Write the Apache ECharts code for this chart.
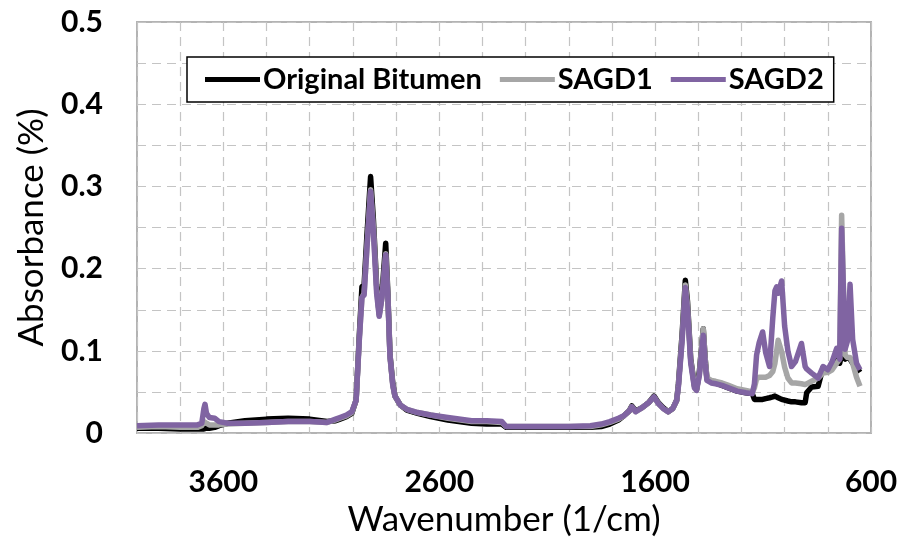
<!DOCTYPE html>
<html>
<head>
<meta charset="utf-8">
<script src="https://cdn.jsdelivr.net/npm/echarts@6/dist/echarts.min.js"></script>
<style>
  html, body { margin: 0; padding: 0; background: #fff; }
  #chart { width: 904px; height: 542px; }
</style>
</head>
<body>
<div id="chart"></div>
<script>
// wavenumbers (1/cm)
const wavenumber = [
  4000, 3900, 3800, 3720, 3700, 3690, 3685, 3678, 3665, 3640, 3620, 3580, 3500, 3400, 3300, 3200,
  3120, 3080, 3060, 3030, 3005, 2985, 2970, 2958, 2948, 2935, 2918, 2905, 2890, 2878, 2865, 2848,
  2838, 2828, 2815, 2805, 2780, 2750, 2700, 2640, 2560, 2450, 2380, 2310, 2290, 2200, 2000, 1900,
  1850, 1810, 1770, 1745, 1720, 1708, 1690, 1660, 1630, 1605, 1585, 1563, 1540, 1518, 1500, 1492,
  1475, 1460, 1450, 1435, 1418, 1408, 1395, 1377, 1368, 1360, 1340, 1320, 1290, 1260, 1220, 1180,
  1150, 1140, 1130, 1118, 1102, 1088, 1070, 1055, 1045, 1037, 1030, 1014, 1000, 985, 968, 950,
  922, 905, 898, 875, 845, 822, 800, 780, 759, 745, 736, 720, 710, 697, 685, 667, 651
];

const originalBitumen = [
  0.006, 0.006, 0.005, 0.005, 0.005, 0.005, 0.006, 0.006, 0.006, 0.007, 0.009, 0.012, 0.015, 0.017, 0.018, 0.017,
  0.014, 0.015, 0.017, 0.020, 0.024, 0.040, 0.120, 0.178, 0.180, 0.240, 0.312, 0.260, 0.180, 0.145, 0.170, 0.231,
  0.170, 0.095, 0.060, 0.045, 0.034, 0.028, 0.024, 0.020, 0.016, 0.012, 0.011, 0.011, 0.007, 0.007, 0.007, 0.007,
  0.008, 0.011, 0.016, 0.021, 0.027, 0.033, 0.027, 0.031, 0.037, 0.045, 0.037, 0.031, 0.026, 0.030, 0.040, 0.060,
  0.120, 0.186, 0.160, 0.090, 0.058, 0.053, 0.075, 0.127, 0.090, 0.066, 0.063, 0.061, 0.058, 0.055, 0.051, 0.049,
  0.048, 0.041, 0.041, 0.041, 0.041, 0.042, 0.043, 0.044, 0.045, 0.045, 0.043, 0.041, 0.040, 0.039, 0.038, 0.038,
  0.037, 0.037, 0.049, 0.056, 0.057, 0.080, 0.075, 0.082, 0.090, 0.085, 0.095, 0.090, 0.092, 0.090, 0.085, 0.080, 0.074
];

const sagd1 = [
  0.007, 0.008, 0.007, 0.007, 0.009, 0.014, 0.016, 0.012, 0.010, 0.010, 0.010, 0.011, 0.012, 0.013, 0.014, 0.014,
  0.013, 0.016, 0.018, 0.021, 0.025, 0.040, 0.115, 0.165, 0.170, 0.225, 0.296, 0.250, 0.175, 0.143, 0.165, 0.218,
  0.165, 0.093, 0.058, 0.045, 0.034, 0.029, 0.025, 0.022, 0.018, 0.014, 0.014, 0.013, 0.008, 0.008, 0.008, 0.008,
  0.010, 0.013, 0.017, 0.021, 0.027, 0.032, 0.026, 0.031, 0.037, 0.044, 0.036, 0.030, 0.026, 0.030, 0.040, 0.058,
  0.115, 0.180, 0.155, 0.088, 0.057, 0.053, 0.072, 0.127, 0.090, 0.067, 0.064, 0.063, 0.061, 0.058, 0.054, 0.052,
  0.050, 0.055, 0.066, 0.068, 0.068, 0.068, 0.070, 0.075, 0.085, 0.100, 0.113, 0.099, 0.080, 0.067, 0.061, 0.061,
  0.060, 0.059, 0.060, 0.063, 0.067, 0.073, 0.074, 0.077, 0.085, 0.090, 0.265, 0.095, 0.092, 0.092, 0.085, 0.068, 0.057
];

const sagd2 = [
  0.009, 0.010, 0.010, 0.010, 0.012, 0.030, 0.035, 0.024, 0.019, 0.018, 0.014, 0.012, 0.012, 0.013, 0.014, 0.014,
  0.013, 0.017, 0.019, 0.022, 0.026, 0.040, 0.115, 0.165, 0.168, 0.225, 0.294, 0.245, 0.170, 0.142, 0.165, 0.217,
  0.165, 0.093, 0.058, 0.045, 0.034, 0.029, 0.025, 0.022, 0.019, 0.015, 0.015, 0.014, 0.008, 0.008, 0.008, 0.009,
  0.011, 0.014, 0.018, 0.021, 0.027, 0.032, 0.026, 0.031, 0.037, 0.044, 0.036, 0.030, 0.026, 0.030, 0.040, 0.057,
  0.112, 0.177, 0.150, 0.085, 0.055, 0.052, 0.070, 0.119, 0.085, 0.064, 0.061, 0.060, 0.058, 0.055, 0.051, 0.049,
  0.048, 0.060, 0.095, 0.110, 0.123, 0.098, 0.081, 0.140, 0.173, 0.178, 0.170, 0.185, 0.130, 0.100, 0.081, 0.087,
  0.109, 0.081, 0.078, 0.073, 0.067, 0.081, 0.077, 0.087, 0.103, 0.090, 0.249, 0.102, 0.111, 0.181, 0.114, 0.085, 0.077
];

const seriesNames = ['Original Bitumen', 'SAGD1', 'SAGD2'];
const seriesColors = ['#000000', '#a6a6a6', '#8064a2'];
const seriesValues = [originalBitumen, sagd1, sagd2];

const chart = echarts.init(document.getElementById('chart'), null, { renderer: 'canvas' });

const font = 'Lato, "Open Sans", sans-serif';

chart.setOption({
  animation: false,
  backgroundColor: '#fff',
  grid: {
    left: 137,
    right: 33,
    top: 22,
    bottom: 105,
    show: true,
    borderColor: '#b3b3b3',
    borderWidth: 2
  },
  legend: {
    left: 187,
    top: 57,
    padding: [8, 10, 8, 18],
    itemGap: 18,
    itemWidth: 55,
    itemHeight: 5,
    icon: 'rect',
    borderColor: '#000',
    borderWidth: 1.5,
    backgroundColor: '#fff',
    textStyle: {
      fontFamily: font,
      fontWeight: 'bold',
      fontSize: 29,
      color: '#000',
      padding: [0, 0, 0, -2]
    },
    data: seriesNames
  },
  xAxis: {
    type: 'value',
    inverse: true,
    min: 600,
    max: 4000,
    interval: 200,
    name: 'Wavenumber (1/cm)',
    nameLocation: 'middle',
    nameGap: 66,
    nameTextStyle: { fontFamily: font, fontSize: 35, color: '#000' },
    axisLine: { show: false },
    axisTick: { show: false },
    axisLabel: {
      margin: 34,
      fontFamily: font,
      fontWeight: 'bold',
      fontSize: 30,
      color: '#000',
      formatter: v => ((v - 600) % 1000 === 0 ? String(v) : '')
    },
    splitLine: { show: true, lineStyle: { color: '#c4c4c4', type: [9, 6], width: 1.2 } }
  },
  yAxis: {
    type: 'value',
    min: 0,
    max: 0.5,
    interval: 0.05,
    name: 'Absorbance (%)',
    nameLocation: 'middle',
    nameGap: 88,
    nameTextStyle: { fontFamily: font, fontSize: 35, color: '#000' },
    axisLine: { show: false },
    axisTick: { show: false },
    axisLabel: {
      margin: 34,
      fontFamily: font,
      fontWeight: 'bold',
      fontSize: 30,
      color: '#000',
      formatter: v => (Math.round(v * 100) % 10 === 0 ? String(+v.toFixed(1)) : '')
    },
    splitLine: { show: true, lineStyle: { color: '#c4c4c4', type: [9, 6], width: 1.2 } }
  },
  series: seriesNames.map((name, i) => ({
    name: name,
    type: 'line',
    data: wavenumber.map((w, j) => [w, seriesValues[i][j]]),
    showSymbol: false,
    symbol: 'none',
    color: seriesColors[i],
    lineStyle: { width: 5.5, color: seriesColors[i], join: 'round' },
    z: 2 + i
  }))
});
</script>
</body>
</html>
